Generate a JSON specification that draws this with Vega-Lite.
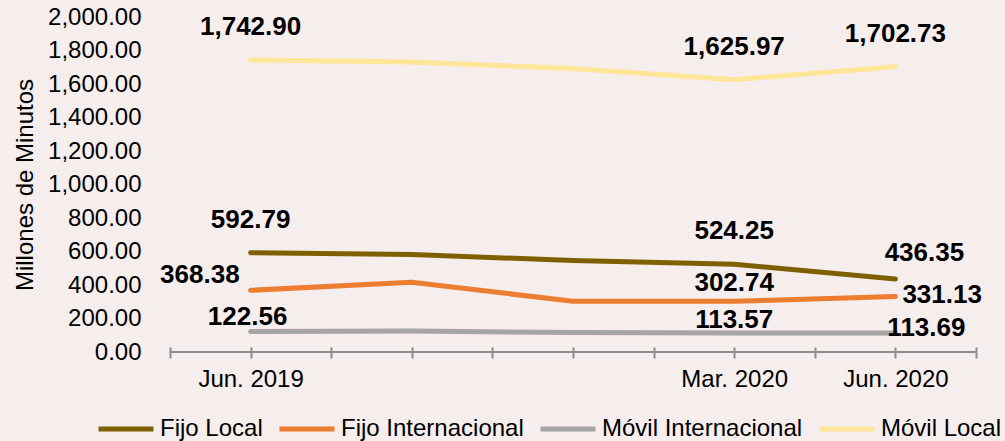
{
  "$schema": "https://vega.github.io/schema/vega-lite/v6.json",
  "autosize": {"type": "none"},
  "padding": {"left": 170, "top": 17, "right": 29, "bottom": 89},
  "width": 806,
  "height": 335,
  "background": "#F6EDED",
  "config": {
    "view": {"stroke": null},
    "font": "Liberation Sans",
    "text": {"font": "Liberation Sans"}
  },
  "data": {
    "values": [
      {"serie": "Fijo Local", "periodo": "Jun. 2019", "t": 0, "valor": 592.79},
      {"serie": "Fijo Local", "periodo": "Sep. 2019", "t": 1, "valor": 582},
      {"serie": "Fijo Local", "periodo": "Dic. 2019", "t": 2, "valor": 546},
      {"serie": "Fijo Local", "periodo": "Mar. 2020", "t": 3, "valor": 524.25},
      {"serie": "Fijo Local", "periodo": "Jun. 2020", "t": 4, "valor": 436.35},
      {"serie": "Fijo Internacional", "periodo": "Jun. 2019", "t": 0, "valor": 368.38},
      {"serie": "Fijo Internacional", "periodo": "Sep. 2019", "t": 1, "valor": 416},
      {"serie": "Fijo Internacional", "periodo": "Dic. 2019", "t": 2, "valor": 303},
      {"serie": "Fijo Internacional", "periodo": "Mar. 2020", "t": 3, "valor": 302.74},
      {"serie": "Fijo Internacional", "periodo": "Jun. 2020", "t": 4, "valor": 331.13},
      {"serie": "Móvil Internacional", "periodo": "Jun. 2019", "t": 0, "valor": 122.56},
      {"serie": "Móvil Internacional", "periodo": "Sep. 2019", "t": 1, "valor": 126},
      {"serie": "Móvil Internacional", "periodo": "Dic. 2019", "t": 2, "valor": 116},
      {"serie": "Móvil Internacional", "periodo": "Mar. 2020", "t": 3, "valor": 113.57},
      {"serie": "Móvil Internacional", "periodo": "Jun. 2020", "t": 4, "valor": 113.69},
      {"serie": "Móvil Local", "periodo": "Jun. 2019", "t": 0, "valor": 1742.90},
      {"serie": "Móvil Local", "periodo": "Sep. 2019", "t": 1, "valor": 1731},
      {"serie": "Móvil Local", "periodo": "Dic. 2019", "t": 2, "valor": 1692},
      {"serie": "Móvil Local", "periodo": "Mar. 2020", "t": 3, "valor": 1625.97},
      {"serie": "Móvil Local", "periodo": "Jun. 2020", "t": 4, "valor": 1702.73}
    ]
  },
  "encoding": {
    "x": {
      "field": "t",
      "type": "quantitative",
      "scale": {"domain": [-0.5, 4.5], "nice": false, "zero": false},
      "axis": {
        "title": null,
        "values": [-0.5, 0, 0.5, 1, 1.5, 2, 2.5, 3, 3.5, 4, 4.5],
        "labelExpr": "datum.value == 0 ? 'Jun. 2019' : datum.value == 3 ? 'Mar. 2020' : datum.value == 4 ? 'Jun. 2020' : ''",
        "domain": false,
        "grid": false,
        "offset": -5,
        "tickSize": 11,
        "tickWidth": 2,
        "tickColor": "#8C8C8C",
        "labelPadding": 9,
        "labelFontSize": 24,
        "labelColor": "#000000",
        "labelFlush": false,
        "labelOverlap": false,
        "labelBound": false
      }
    },
    "y": {
      "field": "valor",
      "type": "quantitative",
      "scale": {"domain": [0, 2000], "nice": false},
      "axis": {
        "title": "Millones de Minutos",
        "titleFontSize": 24,
        "titleFontWeight": "normal",
        "titleColor": "#000000",
        "titlePadding": 10,
        "values": [0, 200, 400, 600, 800, 1000, 1200, 1400, 1600, 1800, 2000],
        "format": ",.2f",
        "domain": false,
        "ticks": false,
        "grid": false,
        "labelPadding": 29,
        "labelFontSize": 24,
        "labelColor": "#000000",
        "labelFlush": false,
        "labelOverlap": false
      }
    }
  },
  "layer": [
    {
      "mark": {"type": "rule", "color": "#8C8C8C", "strokeWidth": 2},
      "encoding": {"x": null, "y": {"datum": 0, "type": "quantitative"}}
    },
    {
      "mark": {"type": "line", "strokeWidth": 5, "strokeCap": "round", "strokeJoin": "round"},
      "encoding": {
        "color": {
          "field": "serie",
          "type": "nominal",
          "scale": {
            "domain": ["Fijo Local", "Fijo Internacional", "Móvil Internacional", "Móvil Local"],
            "range": ["#7F6000", "#ED7D31", "#A5A5A5", "#FFE699"]
          },
          "legend": {
            "title": null,
            "orient": "none",
            "direction": "horizontal",
            "legendX": -74,
            "legendY": 382,
            "symbolType": "stroke",
            "symbolSize": 3025,
            "symbolStrokeWidth": 5,
            "labelFontSize": 24,
            "labelColor": "#000000",
            "labelOffset": 4,
            "labelLimit": 0,
            "columnPadding": 6
          }
        },
        "detail": {"field": "serie"}
      }
    },
    {
      "transform": [{"filter": "(datum.serie == 'Móvil Local' && (datum.t == 0 || datum.t == 3 || datum.t == 4)) || (datum.serie == 'Fijo Local' && (datum.t == 0 || datum.t == 3))"}],
      "mark": {"type": "text", "fontSize": 26, "fontWeight": "bold", "color": "#000000", "align": "center", "baseline": "middle", "dy": -33},
      "encoding": {"text": {"field": "valor", "type": "quantitative", "format": ",.2f"}}
    },
    {
      "transform": [{"filter": "datum.serie == 'Fijo Internacional' && datum.t == 0"}],
      "mark": {"type": "text", "fontSize": 26, "fontWeight": "bold", "color": "#000000", "align": "right", "baseline": "middle", "dx": -11, "dy": -15},
      "encoding": {"text": {"field": "valor", "type": "quantitative", "format": ",.2f"}}
    },
    {
      "transform": [{"filter": "datum.serie == 'Móvil Internacional' && datum.t == 0"}],
      "mark": {"type": "text", "fontSize": 26, "fontWeight": "bold", "color": "#000000", "align": "center", "baseline": "middle", "dx": -3, "dy": -14},
      "encoding": {"text": {"field": "valor", "type": "quantitative", "format": ",.2f"}}
    },
    {
      "transform": [{"filter": "datum.serie == 'Fijo Local' && datum.t == 4"}],
      "mark": {"type": "text", "fontSize": 26, "fontWeight": "bold", "color": "#000000", "align": "center", "baseline": "middle", "dx": 29, "dy": -26},
      "encoding": {"text": {"field": "valor", "type": "quantitative", "format": ",.2f"}}
    },
    {
      "transform": [{"filter": "datum.serie == 'Fijo Internacional' && datum.t == 3"}],
      "mark": {"type": "text", "fontSize": 26, "fontWeight": "bold", "color": "#000000", "align": "center", "baseline": "middle", "dy": -18},
      "encoding": {"text": {"field": "valor", "type": "quantitative", "format": ",.2f"}}
    },
    {
      "transform": [{"filter": "datum.serie == 'Fijo Internacional' && datum.t == 4"}],
      "mark": {"type": "text", "fontSize": 26, "fontWeight": "bold", "color": "#000000", "align": "left", "baseline": "middle", "dx": 7, "dy": -2},
      "encoding": {"text": {"field": "valor", "type": "quantitative", "format": ",.2f"}}
    },
    {
      "transform": [{"filter": "datum.serie == 'Móvil Internacional' && datum.t == 3"}],
      "mark": {"type": "text", "fontSize": 26, "fontWeight": "bold", "color": "#000000", "align": "center", "baseline": "middle", "dy": -13},
      "encoding": {"text": {"field": "valor", "type": "quantitative", "format": ",.2f"}}
    },
    {
      "transform": [{"filter": "datum.serie == 'Móvil Internacional' && datum.t == 4"}],
      "mark": {"type": "text", "fontSize": 26, "fontWeight": "bold", "color": "#000000", "align": "center", "baseline": "middle", "dx": 31, "dy": -5},
      "encoding": {"text": {"field": "valor", "type": "quantitative", "format": ",.2f"}}
    }
  ]
}
